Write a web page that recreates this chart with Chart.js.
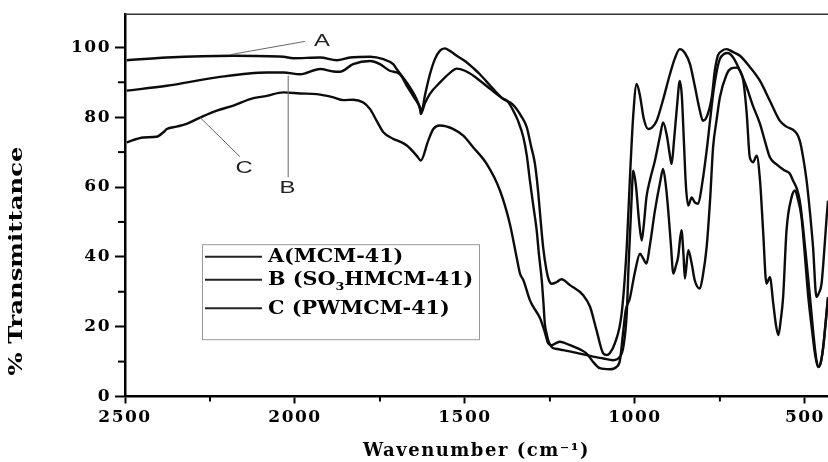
<!DOCTYPE html>
<html>
<head>
<meta charset="utf-8">
<script src="https://cdn.jsdelivr.net/npm/chart.js@4.4.1/dist/chart.umd.min.js"></script>
<style>
  body { margin: 0; background: #fff; }
  canvas { display: block; }
</style>
</head>
<body>
<canvas id="grafico" width="828" height="462"></canvas>
<script>
// ------------------------------------------------------------------------------
// ESPECTROS FT-IR  A, B, C
// ------------------------------------------------------------------------------
const nombres = ['A(MCM-41)', 'B (SO₃HMCM-41)', 'C (PWMCM-41)'];

// numero de onda (cm-1) y % transmitancia
const ondaA = [2495, 2377, 2181, 2034, 2005, 1926, 1877, 1838, 1779, 1740, 1711, 1701, 1671, 1647, 1632, 1627,
  1618, 1603, 1588, 1574, 1559, 1544, 1524, 1500, 1476, 1456, 1417, 1388, 1359, 1335, 1318, 1306, 1294, 1285,
  1279, 1270, 1260, 1253, 1245, 1230, 1216, 1191, 1152, 1132, 1113, 1093, 1083, 1074, 1059, 1039, 1024, 1015,
  1005, 995, 985, 974, 961, 950, 936, 918, 897, 882, 868, 853, 838, 824, 809, 800, 791, 774, 765, 756, 744,
  730, 712, 691, 662, 632, 603, 574, 554, 535, 524, 515, 506, 495, 485, 476, 466, 459, 451, 444, 436, 432];
const transA = [96.3, 97.1, 97.6, 97.3, 96.9, 97.1, 96.3, 97.1, 97.3, 96.6, 95.2, 93.8, 89.9, 86.1, 82.8, 81.9,
  86.1, 92.3, 96.7, 99.0, 99.7, 99.0, 97.6, 96.1, 94.1, 92.3, 88.1, 85.3, 83.6, 80.4, 77.1, 71.9, 66.6, 59.0,
  52.3, 42.8, 36.1, 33.3, 32.3, 32.8, 33.6, 31.9, 29.0, 25.7, 19.0, 12.3, 11.9, 12.4, 15.2, 23.8, 42.8, 61.9,
  80.4, 89.5, 86.1, 79.6, 76.6, 77.0, 79.0, 84.7, 92.3, 97.0, 99.5, 98.4, 95.2, 89.0, 81.9, 79.0, 79.6, 85.7,
  93.3, 97.6, 99.0, 99.5, 98.7, 97.6, 94.4, 90.4, 84.7, 79.0, 77.3, 76.4, 75.3, 73.3, 69.0, 61.9, 52.7, 42.8,
  28.5, 29.6, 32.3, 40.4, 51.4, 56.1];

const ondaB = [2495, 2377, 2230, 2083, 2034, 1985, 1926, 1887, 1868, 1829, 1779, 1750, 1721, 1691, 1671, 1647,
  1632, 1630, 1618, 1603, 1574, 1544, 1524, 1500, 1471, 1426, 1388, 1376, 1358, 1344, 1328, 1318, 1309, 1299,
  1289, 1282, 1274, 1269, 1265, 1260, 1255, 1245, 1229, 1211, 1162, 1123, 1093, 1064, 1044, 1034, 1024, 1018,
  1010, 1005, 997, 988, 980, 974, 966, 956, 941, 926, 917, 906, 897, 892, 885, 876, 868, 862, 856, 850, 843,
  833, 824, 814, 803, 789, 779, 770, 759, 750, 738, 727, 711, 691, 671, 653, 632, 618, 603, 585, 559, 544, 535,
  524, 515, 506, 497, 485, 476, 466, 460, 453, 446, 438, 432];
const transB = [87.6, 89.0, 91.4, 92.8, 92.8, 92.3, 93.8, 93.1, 93.0, 95.2, 96.1, 95.2, 93.3, 92.3, 89.0, 85.2,
  82.3, 80.9, 83.9, 86.7, 89.9, 92.7, 93.9, 93.3, 91.6, 88.1, 85.3, 84.7, 81.9, 79.0, 74.2, 69.0, 61.9, 54.7,
  47.6, 40.4, 33.3, 26.7, 20.9, 18.1, 16.1, 14.2, 13.6, 13.3, 12.3, 11.4, 10.9, 10.4, 11.4, 14.2, 23.8, 39.0,
  56.1, 64.7, 60.4, 50.4, 44.7, 49.0, 57.1, 61.9, 67.6, 74.7, 78.5, 74.7, 69.0, 66.6, 73.3, 83.3, 90.4, 86.1,
  73.3, 60.4, 54.7, 57.0, 55.6, 55.2, 60.4, 70.4, 79.0, 86.6, 93.3, 96.7, 98.1, 98.4, 97.1, 93.3, 88.5, 83.3,
  78.1, 73.3, 68.5, 66.6, 64.7, 63.8, 61.9, 59.6, 56.1, 49.0, 40.4, 28.5, 19.0, 10.4, 8.4, 9.9, 14.2, 22.4, 28.5];

const ondaC = [2495, 2446, 2407, 2387, 2377, 2348, 2319, 2279, 2230, 2181, 2132, 2083, 2034, 1985, 1936, 1887,
  1858, 1829, 1799, 1779, 1760, 1740, 1711, 1691, 1671, 1642, 1630, 1608, 1593, 1574, 1534, 1505, 1476, 1436,
  1397, 1368, 1348, 1338, 1328, 1309, 1299, 1279, 1265, 1255, 1245, 1232, 1221, 1206, 1191, 1142, 1123, 1103,
  1074, 1054, 1044, 1034, 1027, 1015, 1000, 985, 976, 966, 956, 941, 926, 917, 909, 902, 894, 887, 879, 873,
  863, 857, 853, 843, 833, 824, 809, 800, 789, 779, 770, 760, 750, 730, 718, 701, 691, 681, 671, 662, 652, 642,
  632, 623, 613, 603, 593, 585, 578, 571, 564, 554, 539, 529, 521, 510, 500, 490, 479, 471, 461, 453, 446, 438, 432];
const transC = [72.8, 74.2, 74.4, 75.7, 76.6, 77.3, 78.1, 79.9, 81.9, 83.3, 85.2, 86.1, 87.1, 86.8, 86.6, 85.7,
  84.9, 85.0, 84.2, 82.3, 79.0, 75.7, 73.8, 73.0, 71.9, 69.0, 67.6, 73.3, 76.6, 77.6, 76.6, 74.7, 71.4, 66.6,
  59.0, 49.5, 39.9, 35.2, 33.3, 27.6, 25.7, 22.4, 18.4, 15.2, 14.7, 15.3, 15.7, 15.3, 14.7, 12.3, 9.9, 8.1,
  7.8, 8.5, 10.4, 19.0, 24.7, 28.1, 35.6, 40.9, 39.6, 38.1, 43.3, 53.3, 61.3, 65.2, 60.4, 53.3, 43.3, 35.2, 37.6,
  39.9, 47.6, 40.4, 33.8, 41.9, 38.1, 33.3, 30.9, 34.7, 42.8, 56.1, 71.4, 79.0, 85.7, 92.3, 93.9, 94.2, 93.3,
  90.4, 80.9, 68.5, 67.1, 69.0, 61.9, 47.6, 32.3, 34.2, 26.6, 20.4, 17.6, 21.9, 28.5, 47.6, 57.1, 59.0, 56.7,
  51.4, 40.4, 28.5, 19.0, 12.7, 8.5, 9.9, 14.2, 21.9, 28.1];

// etiquetas sobre las curvas: texto, posicion y linea guia (onda, %T)
const etiquetas = ['A', 'B', 'C'];
const etiquetaPos = [[1921, 101.6], [2022, 59.7], [2150, 65.4]];
const guias = [[2191, 97.9, 1971, 101.7], [2020, 91.9, 2020, 62.8], [2279, 79.9, 2162, 68.7]];

// marcas de los ejes
const ticksX = [2500, 2000, 1500, 1000, 500];
const ticksY = [0, 20, 40, 60, 80, 100];
const menoresX = [2250, 1750, 1250, 750];
const menoresY = [10, 30, 50, 70, 90];

const fuenteSerif = '"DejaVu Serif", "Liberation Serif", serif';

function puntos(onda, trans) {
    return onda.map((w, i) => ({ x: w, y: trans[i] }));
}

function serie(label, onda, trans) {
    return {
        label: label,
        data: puntos(onda, trans),
        borderColor: '#0c0c0c',
        borderWidth: 2.4,
        pointRadius: 0,
        fill: false,
        cubicInterpolationMode: 'monotone',
    };
}

// texto con subindices (SO3)
const subs = { '₀': '0', '₁': '1', '₂': '2', '₃': '3', '₄': '4' };
function textoConSub(ctx, texto, x, y, size) {
    let cx = x;
    for (const ch of texto) {
        if (subs[ch]) {
            ctx.font = 'bold ' + Math.round(size * 0.6) + 'px ' + fuenteSerif;
            ctx.fillText(subs[ch], cx, y + size * 0.35);
            cx += ctx.measureText(subs[ch]).width;
        } else {
            ctx.font = 'bold ' + size + 'px ' + fuenteSerif;
            ctx.fillText(ch, cx, y);
            cx += ctx.measureText(ch).width;
        }
    }
}

// texto estirado a lo ancho, como en la figura original
function textoAncho(ctx, texto, x, y, sx) {
    ctx.save();
    ctx.translate(x, y);
    ctx.scale(sx, 1);
    ctx.fillText(texto, 0, 0);
    ctx.restore();
}

const extras = {
    id: 'extras',
    beforeDraw(chart) {
        chart.ctx.letterSpacing = '1.5px';
    },
    afterDraw(chart) {
        const { ctx, chartArea: a, scales: { x, y } } = chart;
        ctx.save();
        ctx.letterSpacing = '0px';

        // borde superior
        ctx.strokeStyle = '#333';
        ctx.lineWidth = 1.5;
        ctx.beginPath();
        ctx.moveTo(a.left, a.top);
        ctx.lineTo(a.right, a.top);
        ctx.stroke();

        // marcas menores
        ctx.strokeStyle = '#000';
        ctx.lineWidth = 2;
        for (const v of menoresY) {
            const py = y.getPixelForValue(v);
            ctx.beginPath();
            ctx.moveTo(a.left - 7, py);
            ctx.lineTo(a.left, py);
            ctx.stroke();
        }
        for (const v of menoresX) {
            const px = x.getPixelForValue(v);
            ctx.beginPath();
            ctx.moveTo(px, a.bottom);
            ctx.lineTo(px, a.bottom + 5);
            ctx.stroke();
        }

        // lineas guia y letras
        ctx.strokeStyle = '#666';
        ctx.lineWidth = 1;
        for (const g of guias) {
            ctx.beginPath();
            ctx.moveTo(x.getPixelForValue(g[0]), y.getPixelForValue(g[1]));
            ctx.lineTo(x.getPixelForValue(g[2]), y.getPixelForValue(g[3]));
            ctx.stroke();
        }
        ctx.fillStyle = '#222';
        ctx.font = '17px "Liberation Sans", Arial, sans-serif';
        ctx.textAlign = 'center';
        ctx.textBaseline = 'middle';
        etiquetas.forEach((t, i) => {
            textoAncho(ctx, t, x.getPixelForValue(etiquetaPos[i][0]), y.getPixelForValue(etiquetaPos[i][1]), 1.4);
        });

        // leyenda
        const bx = a.left + 77, by = a.top + 230, bw = 277, bh = 95;
        ctx.fillStyle = '#fff';
        ctx.fillRect(bx, by, bw, bh);
        ctx.strokeStyle = '#999';
        ctx.lineWidth = 1;
        ctx.strokeRect(bx + 0.5, by + 0.5, bw, bh);
        const filas = [12.5, 35.5, 64];
        ctx.textAlign = 'left';
        chart.data.datasets.forEach((ds, i) => {
            const fy = by + filas[i];
            ctx.strokeStyle = '#222';
            ctx.lineWidth = 2;
            ctx.beginPath();
            ctx.moveTo(bx + 3, fy);
            ctx.lineTo(bx + 60, fy);
            ctx.stroke();
            ctx.fillStyle = '#000';
            ctx.save();
            ctx.translate(bx + 66, fy + 1);
            ctx.scale(1.15, 1);
            textoConSub(ctx, ds.label, 0, 0, 18);
            ctx.restore();
        });

        // titulo eje Y
        ctx.translate(17, 261);
        ctx.rotate(-Math.PI / 2);
        ctx.textAlign = 'center';
        ctx.fillStyle = '#000';
        ctx.font = 'bold 18px ' + fuenteSerif;
        textoAncho(ctx, '% Transmittance', 0, 0, 1.35);
        ctx.restore();
    }
};

const fuenteTicks = { family: fuenteSerif, size: 17, weight: 'bold' };

new Chart(document.getElementById('grafico'), {
    type: 'line',
    data: {
        datasets: [
            serie(nombres[0], ondaA, transA),
            serie(nombres[1], ondaB, transB),
            serie(nombres[2], ondaC, transC),
        ],
    },
    options: {
        responsive: false,
        animation: false,
        devicePixelRatio: 1,
        layout: { padding: { top: 13, left: 0, right: 0, bottom: 0 } },
        plugins: {
            legend: { display: false },
            tooltip: { enabled: false },
        },
        scales: {
            x: {
                type: 'linear',
                reverse: true,
                min: 432,
                max: 2500,
                afterBuildTicks: s => { s.ticks = ticksX.map(v => ({ value: v })); },
                afterFit: s => { s.height = 65.5; },
                ticks: {
                    autoSkip: false,
                    maxRotation: 0,
                    padding: 4,
                    color: '#000',
                    font: fuenteTicks,
                    callback: v => String(v),
                },
                grid: { drawOnChartArea: false, drawTicks: true, tickLength: 7, tickColor: '#000', tickWidth: 2 },
                border: { display: true, color: '#000', width: 2.5 },
                title: {
                    display: true,
                    text: 'Wavenumber (cm⁻¹)',
                    color: '#000',
                    font: { family: fuenteSerif, size: 18, weight: 'bold' },
                    padding: { top: 0, bottom: 0 },
                },
            },
            y: {
                min: 0,
                max: 109.5,
                afterBuildTicks: s => { s.ticks = ticksY.map(v => ({ value: v })); },
                afterFit: s => { s.width = 125; },
                ticks: {
                    padding: 4,
                    color: '#000',
                    font: fuenteTicks,
                    callback: v => String(v),
                },
                grid: { drawOnChartArea: false, drawTicks: true, tickLength: 10, tickColor: '#000', tickWidth: 2 },
                border: { display: true, color: '#000', width: 2.5 },
            },
        },
    },
    plugins: [extras],
});
</script>
</body>
</html>
